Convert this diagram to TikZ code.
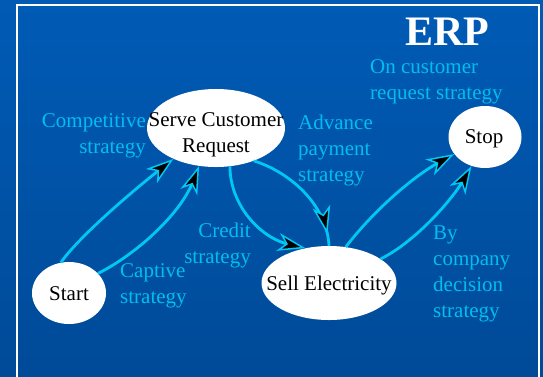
\documentclass[tikz,border=0pt]{standalone}
\usepackage{fontspec}
\setmainfont{Liberation Serif}
\usetikzlibrary{shapes.geometric,arrows.meta,decorations.markings}
\definecolor{bgtop}{RGB}{0,91,181}
\definecolor{bgbot}{RGB}{0,74,152}
\definecolor{cyanline}{RGB}{0,200,245}
\definecolor{labelcol}{RGB}{0,190,240}
\tikzset{
  state/.style={ellipse, fill=white, inner sep=0pt},
  statetext/.style={inner sep=0pt, align=center, text=black, font=\fontsize{21}{25.5}\selectfont},
  lbl/.style={text=labelcol, inner sep=0pt, font=\fontsize{21}{26}\selectfont},
  conn/.style={draw=cyanline, line width=1.5pt,
    -{Stealth[length=28pt,width=18pt,inset=8pt,fill=black]},
    preaction={draw=cyanline, line width=2.8pt, -, shorten >=16pt}},
  connmid/.style={draw=cyanline, line width=2.8pt, postaction={decorate},
    decoration={markings, mark=at position 0.9 with
      {\arrow[line width=1.5pt]{Stealth[length=28pt,width=18pt,inset=8pt,fill=black]}}}},
}
\begin{document}
\begin{tikzpicture}[x=1pt,y=-1pt]
\useasboundingbox (0,0) rectangle (543,376);
\shade[top color=bgtop, bottom color=bgbot] (0,0) rectangle (543,376);
\draw[white, line width=1.5pt] (17,380) -- (17,5) -- (539,5) -- (539,380);

\node[text=white, inner sep=0pt, font=\fontsize{42}{42}\selectfont\bfseries] (erp) at (447,32) {ERP};

\node[state, minimum width=74pt, minimum height=62pt] (start) at (69,293) {};
\node[state, minimum width=138pt, minimum height=78pt] (serve) at (216,128) {};
\node[state, minimum width=135pt, minimum height=74pt] (sell) at (329,283) {};
\node[state, minimum width=73pt, minimum height=62pt] (stop) at (485,137) {};

\node[statetext] (starttext) at (69,294) {Start};
\node[statetext] (servetext) at (216,135) {Serve Customer\\Request};
\node[statetext] (selltext) at (329,285) {Sell Electricity};
\node[statetext] (stoptext) at (484,139) {Stop};

\draw[conn] (start.105) .. controls (80,235) and (140,185) .. (serve.216);
\draw[conn] (start.34) .. controls (135,255) and (180,215) .. (serve.246);
\draw[conn] (serve.290) .. controls (230,205) and (260,238) .. (sell.124);
\draw[connmid] (serve.319) .. controls (290,172) and (327,205) .. (sell.north);
\draw[conn] (sell.65) .. controls (370,215) and (410,178) .. (stop.209);
\draw[conn] (sell.25) .. controls (415,242) and (452,200) .. (stop.245);

\node[lbl, anchor=east, align=right] (lcomp) at (146,135.5) {Competitive\\strategy};
\node[lbl, anchor=west, align=left] (ladv) at (298,150) {Advance\\payment\\strategy};
\node[lbl, anchor=west, align=left] (lon) at (370,82) {On customer\\request strategy};
\node[lbl, anchor=east, align=right] (lcred) at (251,245.5) {Credit\\strategy};
\node[lbl, anchor=west, align=left] (lcap) at (120,286) {Captive\\strategy};
\node[lbl, anchor=west, align=left] (lby) at (433,273.5) {By\\company\\decision\\strategy};
\end{tikzpicture}
\end{document}
